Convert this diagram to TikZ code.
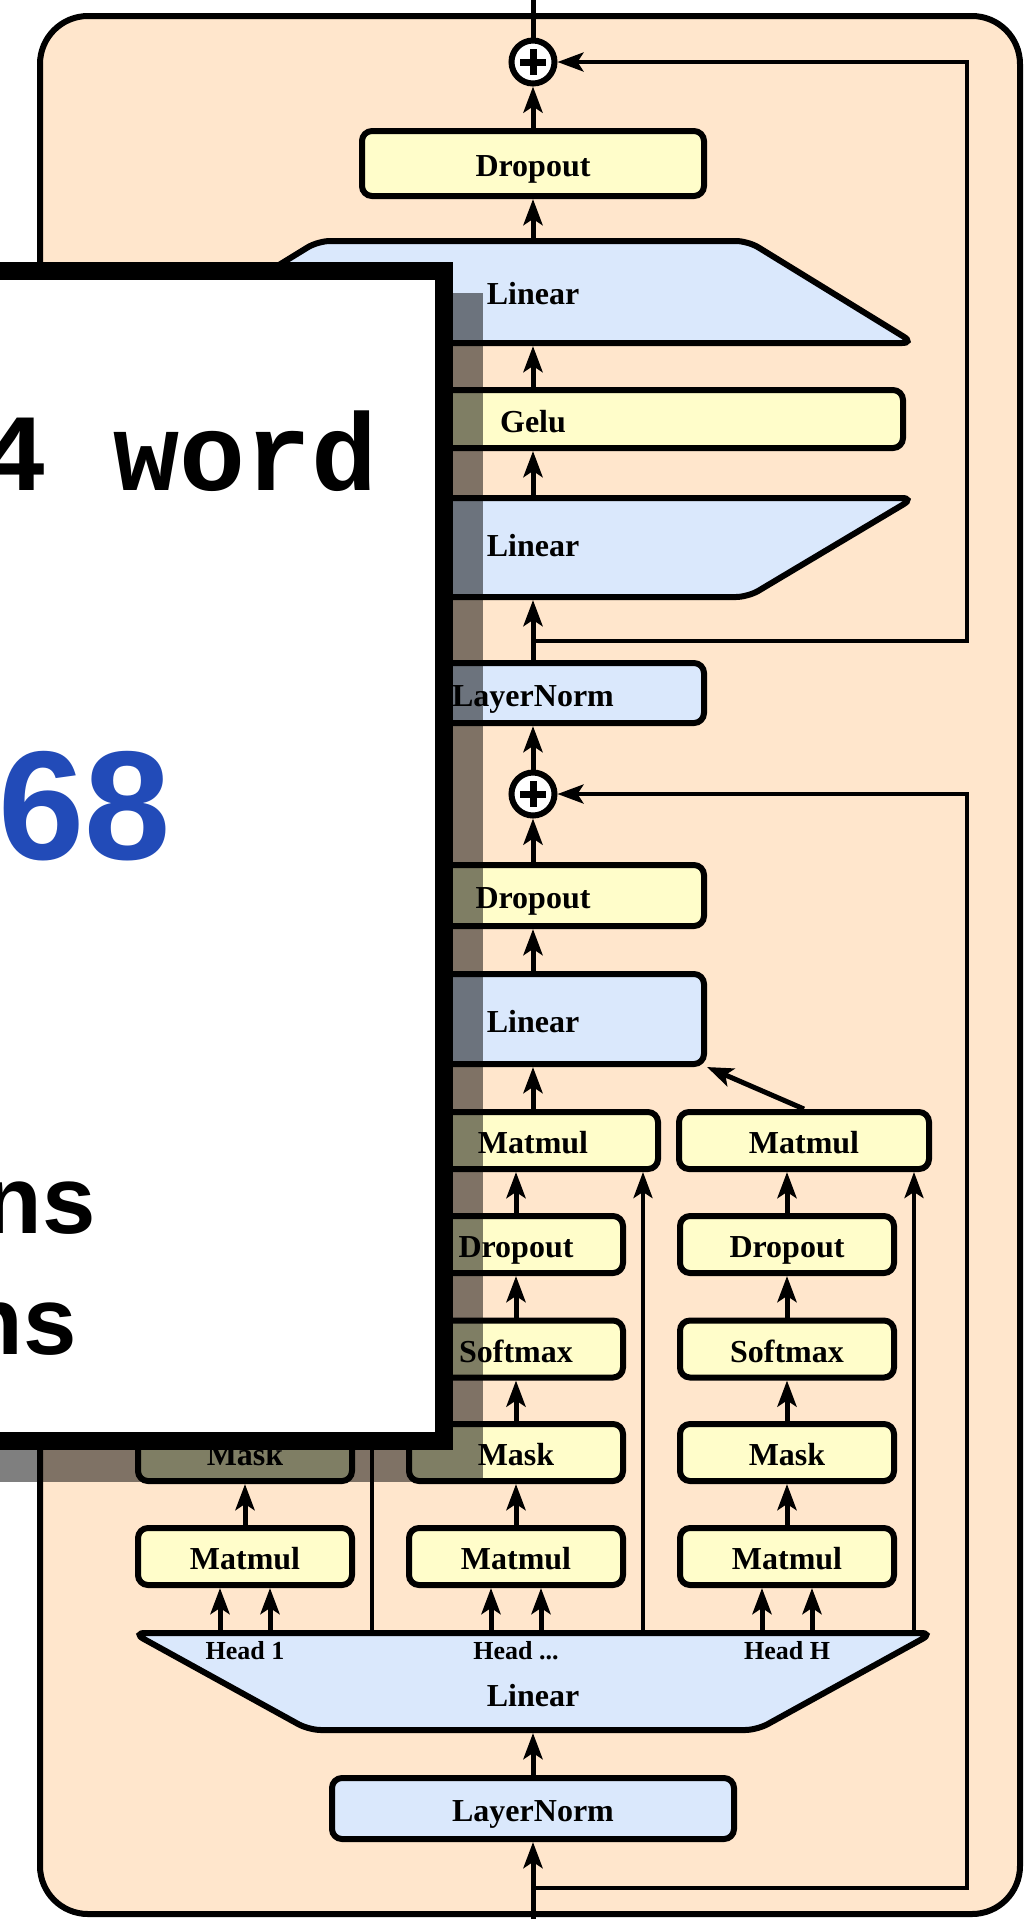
\documentclass[tikz,border=0pt]{standalone}
\usepackage{fontspec}
\setmainfont{Liberation Serif}
\newfontfamily\wordfont{Liberation Mono}
\newfontfamily\numfont{Liberation Sans}
\usetikzlibrary{arrows.meta}

\definecolor{durazno}{HTML}{FFE6CC}
\definecolor{celeste}{HTML}{DAE8FC}
\definecolor{amarillo}{HTML}{FFFDCA}
\definecolor{azulcifra}{HTML}{224BB8}

\newcommand{\suma}[2]{%
  \node[circle, draw, line width=3pt, fill=white, minimum size=21.5pt, inner sep=0pt] (#1) at (#2) {};
  \draw[line width=3.5pt] (#1.center) ++(-13,0) -- ++(26,0);
  \draw[line width=3.5pt] (#1.center) ++(0,-13) -- ++(0,26);}

\newcommand{\cabeza}[3]{%
  \node[amarilla, minimum width=107pt] (#2a) at (#1,1556.5) {Matmul};
  \node[amarilla, minimum width=107pt] (#2b) at (#1,1452.5) {Mask};
  \node[amarilla, minimum width=107pt] (#2c) at (#1,1349) {Softmax};
  \node[amarilla, minimum width=107pt] (#2d) at (#1,1244.5) {Dropout};
  \node[amarilla, minimum width=125pt] (#2e) at (#1+17,1140.5) {Matmul};
  \coordinate (#2q) at (#1-25,1630);
  \coordinate (#2k) at (#1+25,1630);
  \coordinate (#2v) at (#1+127,1630);
  \draw[flecha] (#2q) -- (#2q |- #2a.south);
  \draw[flecha] (#2k) -- (#2k |- #2a.south);
  \foreach \i/\j in {a/b, b/c, c/d} \draw[flecha] (#2\i) -- (#2\j);
  \draw[flecha] (#2d.north) -- (#2d.north |- #2e.south);
  \draw[retorno] (#2v) -- (#2v |- #2e.south);
  \draw[flecha] (#2e.north) -- (#3);}

\begin{document}
\begin{tikzpicture}[x=0.5pt, y=-0.5pt, font=\bfseries\fontsize{16}{19}\selectfont,
  >={Stealth[length=13pt, width=9.5pt, inset=3pt]},
  caja/.style={draw, line width=3pt, rounded corners=5pt, inner sep=0pt, text height=13pt, text depth=0pt},
  amarilla/.style={caja, fill=amarillo, minimum height=28.5pt},
  azul/.style={caja, fill=celeste},
  forma/.style={draw, line width=3pt, rounded corners=6pt, fill=celeste},
  flecha/.style={->, line width=2.5pt},
  retorno/.style={->, line width=2pt},
  cartel/.style={anchor=base east, inner sep=0pt}]
  \useasboundingbox (0,0) rectangle (1026,1919);
  \clip (0,0) rectangle (1026,1919);
  \draw[line width=3pt, fill=durazno, rounded corners=24pt] (40,16) rectangle (1020,1914);

  % feed forward
  \suma{suma2}{533,62}
  \node[amarilla, minimum width=171pt, minimum height=32.5pt] (drop2) at (533,163.5) {Dropout};
  \draw[forma] (318,241) -- (748,241) -- (914,343) -- (152,343) -- cycle;
  \node (lin2) at (533,293.5) {Linear};
  \coordinate (lin2n) at (533,238);
  \coordinate (lin2s) at (533,346);
  \node[amarilla, minimum width=370pt, minimum height=29pt] (gelu) at (533,419) {Gelu};
  \draw[forma] (152,498) -- (914,498) -- (748,597) -- (318,597) -- cycle;
  \node (lin1) at (533,546) {Linear};
  \coordinate (lin1n) at (533,495);
  \coordinate (lin1s) at (533,600);
  \node[azul, minimum width=171pt, minimum height=30pt] (ln2) at (533,693) {LayerNorm};

  % atencion
  \suma{suma1}{533,794}
  \node[amarilla, minimum width=171pt, minimum height=30.5pt] (drop1) at (533,895.5) {Dropout};
  \node[azul, minimum width=171pt, minimum height=45pt] (linm) at (533,1019) {Linear};
  \draw[forma] (133,1633) -- (933,1633) -- (757,1730) -- (309,1730) -- cycle;
  \node (linh) at (533,1695.5) {Linear};
  \node[font=\bfseries\fontsize{13}{15}\selectfont] (c1) at (245,1651) {Head 1};
  \node[font=\bfseries\fontsize{13}{15}\selectfont] (c2) at (516,1651) {Head ...};
  \node[font=\bfseries\fontsize{13}{15}\selectfont] (c3) at (787,1651) {Head H};
  \coordinate (linhs) at (533,1733);
  \cabeza{245}{h1}{linm.south west}
  \cabeza{516}{h2}{linm.south}
  \cabeza{787}{h3}{linm.south east}
  \node[azul, minimum width=201pt, minimum height=30.5pt] (ln1) at (533,1808.5) {LayerNorm};

  % conexiones
  \coordinate (entrada) at (533,1919);
  \coordinate (salida) at (533,0);
  \coordinate (rama1) at (533,1888);
  \coordinate (rama2) at (533,641);
  \coordinate (esq1) at (967,794);
  \coordinate (esq2) at (967,62);
  \draw[flecha] (entrada) -- (ln1);
  \draw[flecha] (ln1) -- (linhs);
  \draw[flecha] (linm) -- (drop1);
  \draw[flecha] (drop1) -- (suma1);
  \draw[flecha] (suma1) -- (ln2);
  \draw[flecha] (ln2) -- (lin1s);
  \draw[flecha] (lin1n) -- (gelu);
  \draw[flecha] (gelu) -- (lin2s);
  \draw[flecha] (lin2n) -- (drop2);
  \draw[flecha] (drop2) -- (suma2);
  \draw[line width=2.5pt] (suma2) -- (salida);
  \draw[retorno] (rama1) -| (esq1) -- (suma1);
  \draw[retorno] (rama2) -| (esq2) -- (suma2);

  % cartel encima
  \fill[black, opacity=0.5] (-60,293) rectangle (483,1482);
  \draw[line width=9pt, fill=white] (-60,271) rectangle (444,1441);
  \node[cartel, font=\wordfont\bfseries\fontsize{55}{60}\selectfont] (palabra) at (378,490) {4 word};
  \node[cartel, text=azulcifra, font=\numfont\bfseries\fontsize{77.5}{80}\selectfont] (cifra) at (171,859) {68};
  \node[cartel, font=\numfont\bfseries\fontsize{48}{54}\selectfont] (fila1) at (96,1233) {ns};
  \node[cartel, font=\numfont\bfseries\fontsize{48}{54}\selectfont] (fila2) at (77,1354) {ns};
\end{tikzpicture}
\end{document}
